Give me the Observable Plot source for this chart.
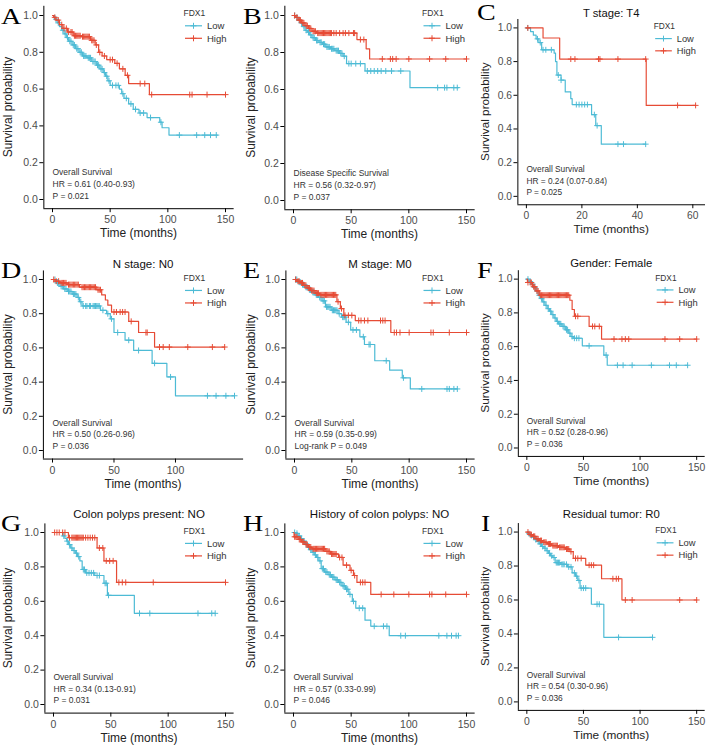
<!DOCTYPE html>
<html><head><meta charset="utf-8">
<script src="https://cdn.jsdelivr.net/npm/d3@7"></script>
<script src="https://cdn.jsdelivr.net/npm/@observablehq/plot@0.6"></script>
<style>
body{margin:0;background:#fff;}
#root{position:relative;width:711px;height:747px;overflow:hidden;background:#fff;font-family:"Liberation Sans",Arial,sans-serif;}
.cell{position:absolute;}
.cell svg{overflow:visible;}
.letter{position:absolute;font-family:"Liberation Serif","Times New Roman",serif;font-size:23px;line-height:0.8;color:#000;transform-origin:0 0;transform:scaleX(1.22);}
</style></head><body><div id="root"></div>
<script>
// ---------- DATA ----------
const panelLetters = ["A","B","C","D","E","F","G","H","I"];
const panelTitles = ["", "", "T stage: T4", "N stage: N0", "M stage: M0", "Gender: Female",
  "Colon polyps present: NO", "History of colon polyps: NO", "Residual tumor: R0"];
const survivalTypes = ["Overall Survival","Disease Specific Survival","Overall Survival","Overall Survival",
  "Overall Survival","Overall Survival","Overall Survival","Overall Survival","Overall Survival"];
const hrLabels = ["HR = 0.61 (0.40-0.93)","HR = 0.56 (0.32-0.97)","HR = 0.24 (0.07-0.84)","HR = 0.50 (0.26-0.96)",
  "HR = 0.59 (0.35-0.99)","HR = 0.52 (0.28-0.96)","HR = 0.34 (0.13-0.91)","HR = 0.57 (0.33-0.99)","HR = 0.54 (0.30-0.96)"];
const pLabels = ["P = 0.021","P = 0.037","P = 0.025","P = 0.036","Log-rank P = 0.049","P = 0.036","P = 0.031","P = 0.046","P = 0.036"];
const legendTitle = "FDX1";
const groupNames = ["Low","High"];
const xLabel = "Time (months)";
const yLabel = "Survival probability";
const yTicks = [0, 0.2, 0.4, 0.6, 0.8, 1.0];
const xTicksStd = [0, 50, 100, 150];
const xTicksC = [0, 20, 40, 60];
const xTicksD = [0, 50, 100];
const timeRanges = [150, 150, 61.5, 148, 150, 150, 150, 150, 150];

// step curves: [time, survival after step]; last point = end of follow-up
const A_low = [[0,1],[2,0.98],[4,0.96],[6,0.94],[8,0.92],[10,0.9],[12,0.88],[14,0.86],[17,0.84],[20,0.82],[23,0.8],[26,0.78],[30,0.77],[34,0.75],[38,0.73],[41,0.71],[44,0.69],[46,0.67],[48,0.645],[50,0.62],[58,0.6],[60,0.575],[62,0.55],[66,0.52],[70,0.49],[75,0.47],[82,0.445],[93,0.42],[95,0.39],[101,0.35],[143,0.35]];
const A_low_cens = [3,5,9,11,13,15,16,18,19,21,22,24,25,27,28,29,31,32,33,35,36,37,39,40,42,43,45,47,49,52,55,57,61,64,68,72,76,79,85,94,110,125,132,137,142];
const A_high = [[0,1],[1,0.99],[3,0.975],[6,0.95],[9,0.93],[13,0.91],[18,0.89],[25,0.885],[33,0.865],[37,0.84],[40,0.8],[43,0.78],[47,0.76],[54,0.74],[58,0.71],[63,0.675],[66,0.63],[84,0.57],[150,0.57]];
const A_high_cens = [2,5,8,10,12,14,16,17,19,20,21,22,23,24,26,27,28,29,30,31,32,34,35,36,38,41,45,50,52,56,61,65,76,80,86,119,121,134,150];

const B_low = [[0,1],[2,0.99],[4,0.975],[6,0.96],[8,0.94],[10,0.92],[12,0.91],[14,0.895],[16,0.88],[19,0.865],[22,0.855],[25,0.845],[28,0.83],[32,0.82],[36,0.81],[40,0.795],[43,0.78],[46,0.74],[62,0.7],[101,0.61],[143,0.61]];
const B_low_cens = [1,3,5,7,9,11,13,15,17,18,20,21,23,24,26,27,29,30,31,33,34,35,37,38,39,41,42,44,48,50,54,58,64,67,70,73,76,80,85,93,125,131,133,139,142];
const B_high = [[0,1],[2,0.99],[4,0.975],[7,0.96],[10,0.945],[13,0.93],[16,0.915],[20,0.905],[55,0.87],[63,0.82],[66,0.765],[150,0.765]];
const B_high_cens = [1,3,5,6,8,9,11,12,14,15,17,18,19,21,22,23,24,25,26,27,28,29,30,31,32,33,35,37,40,43,45,48,52,53,58,61,77,84,86,89,100,118,132,150];

const C_low = [[0,1],[1.5,0.978],[2.5,0.957],[3.5,0.935],[4.5,0.913],[5.5,0.87],[10,0.85],[10.5,0.8],[11,0.72],[12.5,0.69],[14,0.62],[16,0.58],[16.5,0.545],[23.5,0.485],[25,0.42],[27,0.31],[43,0.31]];
const C_low_cens = [0.5,4,5,6,7,9,11.5,12.5,18,19,20,21,22,24.5,25.5,33,35,43];
const C_high = [[0,1],[6,0.94],[12,0.815],[43.2,0.54],[61,0.54]];
const C_high_cens = [0.5,16,17.5,26,26.5,33,43,54.5,61];

const D_low = [[0,1],[3,0.98],[6,0.96],[9,0.945],[12,0.93],[16,0.915],[20,0.895],[22,0.87],[24,0.845],[39,0.82],[44,0.8],[47,0.77],[50,0.69],[59,0.645],[66,0.585],[81,0.51],[93,0.43],[100,0.32],[148,0.32]];
const D_low_cens = [2,4,5,7,8,10,11,13,14,15,17,18,19,21,23,25,27,28,30,31,33,34,35,36,37,38,41,45,48,53,62,70,83,96,126,133,141,148];
const D_high = [[0,1],[2,0.99],[6,0.98],[12,0.97],[22,0.955],[36,0.94],[40,0.91],[43,0.88],[45,0.85],[48,0.81],[62,0.755],[70,0.69],[83,0.605],[140,0.605]];
const D_high_cens = [1,3,5,7,8,9,10,11,13,14,15,16,17,18,19,20,21,24,25,26,27,28,29,30,31,32,33,34,35,37,38,39,50,52,55,57,59,64,76,77,87,90,95,110,130,140];

const E_low = [[0,1],[3,0.985],[6,0.97],[9,0.955],[12,0.94],[15,0.925],[18,0.91],[21,0.895],[24,0.875],[27,0.84],[32,0.82],[38,0.8],[41,0.78],[45,0.75],[49,0.705],[57,0.665],[61,0.62],[70,0.525],[83,0.47],[94,0.425],[101,0.36],[142,0.36]];
const E_low_cens = [1,2,4,5,7,8,10,11,13,14,16,17,19,20,22,23,25,26,28,29,30,31,33,34,35,36,37,39,42,43,44,47,51,54,60,65,66,80,95,111,133,135,139,142];
const E_high = [[0,1],[2,0.99],[5,0.98],[8,0.965],[11,0.95],[14,0.935],[18,0.92],[22,0.91],[37,0.87],[40,0.83],[43,0.79],[53,0.76],[84,0.69],[150,0.69]];
const E_high_cens = [1,3,4,6,7,9,10,12,13,15,16,17,19,20,21,23,24,25,26,27,28,29,30,31,32,33,34,35,36,38,41,44,47,50,56,58,61,64,75,77,79,87,89,92,100,119,121,135,150];

const F_low = [[0,1],[2,0.985],[4,0.97],[6,0.95],[8,0.93],[10,0.905],[12,0.885],[14,0.865],[16,0.845],[18,0.825],[20,0.81],[22,0.79],[24,0.77],[26,0.75],[28,0.735],[31,0.72],[34,0.7],[37,0.68],[39,0.66],[41,0.65],[49,0.605],[68,0.55],[71,0.49],[142,0.49]];
const F_low_cens = [1,3,5,7,9,11,13,15,17,19,21,23,25,27,29,30,32,33,35,36,38,40,42,44,46,55,70,80,85,93,110,126,132,142];
const F_high = [[0,1],[0.5,0.98],[5,0.955],[8,0.93],[11,0.905],[38,0.875],[40,0.82],[42,0.78],[55,0.72],[66,0.645],[150,0.645]];
const F_high_cens = [1,3,4,6,7,9,10,12,13,14,15,16,17,18,19,20,21,22,23,24,25,26,27,28,29,30,31,32,33,34,35,36,37,43,45,58,60,64,77,84,87,90,122,135,150];

const G_low = [[0,1],[8,0.98],[10,0.965],[11.5,0.95],[13,0.93],[15,0.91],[17,0.895],[19,0.88],[21,0.86],[23,0.835],[25,0.785],[28,0.765],[36,0.75],[44,0.705],[47,0.635],[70.5,0.53],[141,0.53]];
const G_low_cens = [9,12,14,16,18,20,22,26,27,29,31,33,35,38,40,45,46,48,75,84,126,138,141];
const G_high = [[0,1],[13,0.97],[38,0.91],[44,0.835],[55,0.71],[150,0.71]];
const G_high_cens = [1,3,5,8,10,14,16,17,18,19,20,21,22,23,24,25,26,28,30,32,34,36,40,43,46,49,52,57,60,63,87,150];

const H_low = [[0,1],[2,0.995],[4,0.98],[6,0.965],[8,0.95],[10,0.935],[12,0.915],[14,0.9],[16,0.885],[18,0.87],[20,0.855],[22,0.835],[24,0.79],[27,0.77],[30,0.755],[33,0.74],[36,0.725],[39,0.71],[42,0.69],[45,0.67],[48,0.64],[51,0.6],[54,0.56],[62,0.49],[67,0.455],[83,0.4],[143,0.4]];
const H_low_cens = [1,3,5,7,9,11,13,15,17,19,21,23,25,26,28,29,31,32,34,35,37,38,40,41,43,44,46,47,49,52,57,60,70,78,81,93,97,126,133,137,141,143];
const H_high = [[0,1],[0.5,0.975],[4,0.96],[7,0.945],[10,0.93],[13,0.915],[16,0.905],[28,0.89],[32,0.875],[39,0.855],[43,0.81],[49,0.78],[52,0.75],[55,0.71],[67,0.64],[150,0.64]];
const H_high_cens = [1,2,3,5,6,8,9,11,12,14,15,17,18,19,20,21,22,23,24,25,26,27,29,30,31,33,34,35,36,37,40,42,46,50,53,58,60,62,76,87,100,118,120,132,150];

const I_low = [[0,1],[1,0.99],[3,0.98],[5,0.97],[7,0.955],[9,0.945],[11,0.93],[13,0.915],[15,0.905],[17,0.89],[19,0.875],[21,0.86],[23,0.85],[25,0.82],[30,0.81],[36,0.795],[40,0.76],[43,0.74],[45,0.715],[47,0.67],[57,0.575],[68,0.38],[111,0.38]];
const I_low_cens = [2,4,6,8,10,12,14,16,18,20,22,24,26,27,28,29,31,32,33,35,37,39,42,44,46,48,50,52,62,64,81,111];
const I_high = [[0,1],[2,0.985],[5,0.975],[8,0.96],[11,0.95],[14,0.94],[18,0.93],[22,0.92],[28,0.91],[34,0.9],[38,0.885],[41,0.845],[52,0.805],[66,0.725],[84,0.6],[150,0.6]];
const I_high_cens = [1,3,4,6,7,9,10,12,13,15,16,17,19,20,21,23,24,25,26,27,29,30,31,32,33,35,36,37,39,43,45,48,55,57,59,76,79,81,87,93,135,150];

const lowCurves = [A_low,B_low,C_low,D_low,E_low,F_low,G_low,H_low,I_low];
const lowCens = [A_low_cens,B_low_cens,C_low_cens,D_low_cens,E_low_cens,F_low_cens,G_low_cens,H_low_cens,I_low_cens];
const highCurves = [A_high,B_high,C_high,D_high,E_high,F_high,G_high,H_high,I_high];
const highCens = [A_high_cens,B_high_cens,C_high_cens,D_high_cens,E_high_cens,F_high_cens,G_high_cens,H_high_cens,I_high_cens];
const xTickSets = [xTicksStd,xTicksStd,xTicksC,xTicksD,xTicksStd,xTicksStd,xTicksStd,xTicksStd,xTicksStd];

// ---------- LAYOUT (pixels) ----------
const colX = [0, 237, 474];
const rowY = [0, 250, 497];
const frames = [
  {l:43.35, r:233.65, t:5.8,   b:208.2},
  {l:284.35,r:474.65, t:5.75,  b:209.25},
  {l:518.3, r:709.9,  t:19.4,  b:208.6},
  {l:42.9,  r:243.1,  t:270.45,b:458.55},
  {l:285.4, r:474.6,  t:270.45,b:458.55},
  {l:518.4, r:707.6,  t:270.45,b:458.55},
  {l:44.4,  r:233.6,  t:523.4, b:712.6},
  {l:284.35,r:474.65, t:523.4, b:712.6},
  {l:518.4, r:707.6,  t:523.4, b:712.6}
];
const titleCenterY = [13, 263.5, 514];
const yLabelX = [8, 14, 11];
const letterPos = [[1,25],[243,25],[477,21],[1,279],[243,279],[477,279],[1,532],[243,532],[481,532]];
const colors = {Low: "#4DBBD5", High: "#E64B35"};
const FONT = "Liberation Sans, Arial, sans-serif";
const LETTER_FS = 23;

function survAt(steps, t) {
  let s = steps[0][1];
  for (const [tt, ss] of steps) { if (tt <= t) s = ss; else break; }
  return s;
}

const root = document.getElementById("root");

for (let i = 0; i < 9; i++) {
  const col = i % 3, row = Math.floor(i / 3);
  const cx = colX[col], cy = rowY[row];
  const F = frames[i];
  const R = timeRanges[i];
  const width = Math.ceil(F.r - cx + 6);
  const height = Math.ceil(F.b - cy + 42);
  const mL = F.l - cx, mR = width - (F.r - cx), mT = F.t - cy, mB = height - (F.b - cy);
  const xd = [-0.05 * R, 1.05 * R];
  const yd = [-0.05, 1.05];
  const pts = steps => steps.map(([t, s]) => ({t, s}));
  const cens = (steps, cs) => cs.map(t => ({t, s: survAt(steps, t)}));

  const marks = [
    Plot.axisX({ticks: xTickSets[i], tickFormat: d3.format("d"), tickSize: 4, tickPadding: 3, label: null, stroke: "#000", fill: "#4d4d4d", fontSize: 10.5}),
    Plot.axisY({ticks: yTicks, tickFormat: d3.format(".1f"), tickSize: 4, tickPadding: 2, label: null, stroke: "#000", fill: "#4d4d4d", fontSize: 10.5}),
    Plot.ruleX([xd[0]], {stroke: "#000", strokeWidth: 1}),
    Plot.ruleY([yd[0]], {stroke: "#000", strokeWidth: 1}),
    Plot.line(pts(lowCurves[i]), {x: "t", y: "s", curve: "step-after", stroke: colors.Low, strokeWidth: 1.2}),
    Plot.dot(cens(lowCurves[i], lowCens[i]), {x: "t", y: "s", symbol: "plus", r: 2.1, stroke: colors.Low, fill: "none", strokeWidth: 1}),
    Plot.line(pts(highCurves[i]), {x: "t", y: "s", curve: "step-after", stroke: colors.High, strokeWidth: 1.2}),
    Plot.dot(cens(highCurves[i], highCens[i]), {x: "t", y: "s", symbol: "plus", r: 2.1, stroke: colors.High, fill: "none", strokeWidth: 1}),
    Plot.text([survivalTypes[i]], {x: () => 0, text: d => d, frameAnchor: "bottom", dy: -36, textAnchor: "start", lineAnchor: "middle", fontSize: 8.5, fill: "#333"}),
    Plot.text([hrLabels[i]], {x: () => 0, text: d => d, frameAnchor: "bottom", dy: -24.3, textAnchor: "start", lineAnchor: "middle", fontSize: 8.5, fill: "#333"}),
    Plot.text([pLabels[i]], {x: () => 0, text: d => d, frameAnchor: "bottom", dy: -12.7, textAnchor: "start", lineAnchor: "middle", fontSize: 8.5, fill: "#333"})
  ];

  const svgEl = Plot.plot({
    width, height,
    marginLeft: mL, marginRight: mR, marginTop: mT, marginBottom: mB,
    style: {fontFamily: FONT, fontSize: "10.5px", background: "transparent", overflow: "visible", color: "#000"},
    x: {domain: xd},
    y: {domain: yd},
    marks
  });

  const svg = d3.select(svgEl);
  const fT = F.t - cy, fB = F.b - cy, fL = F.l - cx, fR = F.r - cx;

  // axis titles
  svg.append("text").attr("x", (fL + fR) / 2).attr("y", fB + 25).attr("dy", "0.35em")
    .attr("text-anchor", "middle").attr("font-family", FONT).attr("font-size", 12).attr("fill", "#222").text(xLabel);
  svg.append("text").attr("transform", `translate(${yLabelX[col]},${(fT + fB) / 2}) rotate(-90)`).attr("dy", "0.35em")
    .attr("text-anchor", "middle").attr("font-family", FONT).attr("font-size", 12).attr("fill", "#222").text(yLabel);

  // panel title
  if (panelTitles[i]) {
    svg.append("text").attr("x", (fL + fR) / 2).attr("y", titleCenterY[row] - cy).attr("dy", "0.35em")
      .attr("text-anchor", "middle").attr("font-family", FONT).attr("font-size", 11.5).attr("fill", "#111").text(panelTitles[i]);
  }

  // legend
  const lx = 183.5 + (col === 1 ? 1.5 : 0);
  const lg = svg.append("g").attr("font-family", FONT).attr("text-anchor", "start");
  lg.append("text").attr("x", lx).attr("y", fT + 7.5).attr("dy", "0.35em").attr("font-size", 8.5).attr("fill", "#333").text(legendTitle);
  [[groupNames[0], 20], [groupNames[1], 32.5]].forEach(([name, off]) => {
    const yy = fT + off, c = colors[name];
    lg.append("line").attr("x1", lx + 1.5).attr("x2", lx + 18.5).attr("y1", yy).attr("y2", yy).attr("stroke", c).attr("stroke-width", 1.2);
    lg.append("path").attr("d", `M${lx + 7},${yy}h6M${lx + 10},${yy - 3}v6`).attr("stroke", c).attr("stroke-width", 1).attr("fill", "none");
    lg.append("text").attr("x", lx + 23.5).attr("y", yy).attr("dy", "0.35em").attr("font-size", 9.5).attr("fill", "#333").text(name);
  });

  const div = document.createElement("div");
  div.className = "cell";
  div.style.left = cx + "px";
  div.style.top = cy + "px";
  div.appendChild(svgEl);
  root.appendChild(div);

  const letter = document.createElement("div");
  letter.className = "letter";
  letter.textContent = panelLetters[i];
  letter.style.left = letterPos[i][0] + "px";
  // line-height 0.8 puts the baseline about 0.7375em below the box top
  letter.style.top = (letterPos[i][1] - LETTER_FS * 0.7375) + "px";
  root.appendChild(letter);
}
</script>
</body></html>
